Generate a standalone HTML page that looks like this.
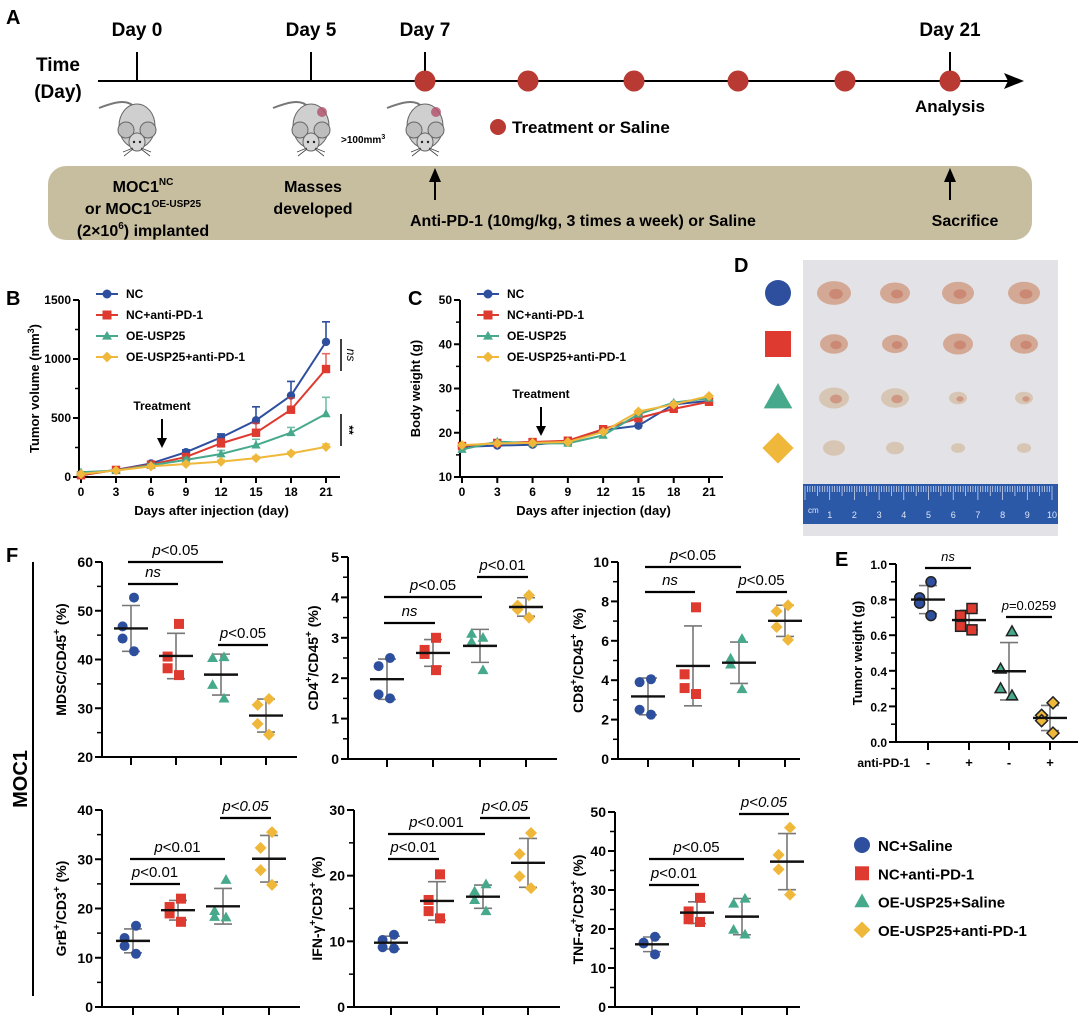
<!DOCTYPE html>
<html><head><meta charset="utf-8"><style>
html,body{margin:0;padding:0;background:#fff;}
svg{display:block;font-family:"Liberation Sans",Arial,sans-serif;}
text{font-weight:bold;}
text.nw{font-weight:normal;}
</style></head><body>
<svg id="fig" width="1080" height="1018" viewBox="0 0 1080 1018" xmlns="http://www.w3.org/2000/svg">
<!-- Panel A -->
<g>
<text x="6" y="24" font-size="20">A</text>
<text x="58" y="71" font-size="19" text-anchor="middle">Time</text>
<text x="58" y="98" font-size="19" text-anchor="middle">(Day)</text>
<line x1="98" y1="81" x2="1010" y2="81" stroke="#000" stroke-width="2"/>
<polygon points="1024,81 1004,73 1008,81 1004,89" fill="#000"/>
<line x1="137" y1="52" x2="137" y2="81" stroke="#000" stroke-width="2"/>
<line x1="311" y1="52" x2="311" y2="81" stroke="#000" stroke-width="2"/>
<line x1="425" y1="52" x2="425" y2="81" stroke="#000" stroke-width="2"/>
<line x1="950" y1="52" x2="950" y2="81" stroke="#000" stroke-width="2"/>
<text x="137" y="36" font-size="19" text-anchor="middle">Day 0</text>
<text x="311" y="36" font-size="19" text-anchor="middle">Day 5</text>
<text x="425" y="36" font-size="19" text-anchor="middle">Day 7</text>
<text x="950" y="36" font-size="19" text-anchor="middle">Day 21</text>
<g id="dots"></g>
<text x="950" y="112" font-size="17" text-anchor="middle">Analysis</text>
<circle cx="498" cy="127" r="8" fill="#b83a33"/>
<text x="512" y="133" font-size="17">Treatment or Saline</text>
<text x="341" y="143" font-size="10">&gt;100mm<tspan font-size="7" dy="-4">3</tspan></text>
<g id="mice"></g>
<rect x="48" y="166" width="984" height="74" rx="18" fill="#c7bd9f"/>
<text x="143" y="192" font-size="16" text-anchor="middle">MOC1<tspan font-size="10" dy="-7">NC</tspan></text>
<text x="143" y="214" font-size="16" text-anchor="middle">or MOC1<tspan font-size="10" dy="-7">OE-USP25</tspan></text>
<text x="143" y="236" font-size="16" text-anchor="middle">(2×10<tspan font-size="10" dy="-7">6</tspan><tspan dy="7">) implanted</tspan></text>
<text x="313" y="192" font-size="16" text-anchor="middle">Masses</text>
<text x="313" y="214" font-size="16" text-anchor="middle">developed</text>
<line x1="435" y1="200" x2="435" y2="180" stroke="#000" stroke-width="2"/>
<polygon points="435,168 429,182 441,182" fill="#000"/>
<text x="410" y="226" font-size="16">Anti-PD-1 (10mg/kg, 3 times a week) or Saline</text>
<line x1="950" y1="200" x2="950" y2="180" stroke="#000" stroke-width="2"/>
<polygon points="950,168 944,182 956,182" fill="#000"/>
<text x="965" y="226" font-size="16" text-anchor="middle">Sacrifice</text>
</g>
<!-- Panel labels -->
<text x="6" y="305" font-size="20">B</text>
<text x="408" y="305" font-size="20">C</text>
<text x="734" y="272" font-size="20">D</text>
<text x="835" y="566" font-size="20">E</text>
<text x="6" y="562" font-size="20">F</text>
<g id="panelB"></g><g id="panelC"></g><g id="panelD"></g><g id="panelE"></g><g id="panelF"></g>
<line x1="33" y1="562" x2="33" y2="996" stroke="#000" stroke-width="2"/>
<text transform="translate(27,779) rotate(-90)" font-size="20" text-anchor="middle">MOC1</text>
<g id="legendF"></g>
</svg>
<script>
// ---------- data ----------
const groupNames = ["NC+Saline","NC+anti-PD-1","OE-USP25+Saline","OE-USP25+anti-PD-1"];
const seriesNamesBC = ["NC","NC+anti-PD-1","OE-USP25","OE-USP25+anti-PD-1"];
const days = [0,3,6,9,12,15,18,21];
const tickDays = [0,3,6,9,12,15,18,21];
const volNC = [15,60,115,210,335,480,690,1145];
const volAnti = [15,60,105,170,285,375,570,915];
const volOE = [40,55,100,145,195,270,375,535];
const volOEAnti = [25,55,90,110,130,160,200,255];
const errNC = [5,10,15,20,30,115,120,170];
const errAnti = [5,10,15,20,40,80,100,130];
const errOE = [5,10,15,20,30,50,45,140];
const errOEAnti = [5,5,10,10,15,15,15,25];
const volTicks = [0,500,1000,1500];
const bwNC = [16.8,17.1,17.3,18.0,20.6,21.6,26.4,27.2];
const bwAnti = [17.0,17.7,17.9,18.2,20.8,23.3,25.4,27.0];
const bwOE = [16.2,18.0,17.6,17.6,19.4,24.2,26.8,27.8];
const bwOEAnti = [17.2,17.6,17.7,17.9,20.2,24.8,26.4,28.3];
const bwTicks = [10,20,30,40,50];
const mdsc = [[52.7,46.8,44.3,41.7],[47.3,40.6,38.2,36.8],[40.5,40.3,34.8,32.0],[31.9,30.7,26.8,24.6]];
const cd4 = [[2.5,2.3,1.6,1.5],[3.0,2.7,2.6,2.2],[3.0,3.1,2.9,2.2],[4.05,3.8,3.7,3.5]];
const cd8 = [[4.05,3.9,2.5,2.25],[7.7,4.3,3.6,3.3],[6.1,5.1,4.8,3.55],[7.8,7.5,6.7,6.05]];
const grb = [[16.5,14.0,12.4,10.8],[22.0,20.3,19.0,17.3],[25.8,19.5,18.3,18.2],[35.5,32.3,27.8,24.8]];
const ifn = [[11.0,10.2,9.1,8.9],[20.2,16.3,14.6,13.5],[18.7,17.6,16.3,14.6],[26.5,23.3,19.9,18.1]];
const tnf = [[18.0,16.5,16.3,13.5],[28.0,24.5,22.5,21.8],[27.8,26.5,19.8,18.6],[46.0,39.0,35.3,28.8]];
const tumorWeight = [[0.90,0.81,0.78,0.71],[0.75,0.71,0.65,0.63],[0.62,0.41,0.30,0.26],[0.22,0.15,0.12,0.05]];
const weightTicks = [0,0.2,0.4,0.6,0.8,1.0];
const antiPD1Signs = ["-","+","-","+"];

const COLORS = ["#2d4f9e","#de3a2f","#47a98b","#efb83a"];
const SHAPES = ["circle","square","triangle","diamond"];
const NS = "http://www.w3.org/2000/svg";
function mk(parent, tag, attrs, text){
  const e = document.createElementNS(NS, tag);
  for (const k in attrs) e.setAttribute(k, attrs[k]);
  if (text !== undefined) e.textContent = text;
  parent.appendChild(e); return e;
}
function marker(parent, shape, x, y, s, fill, stroke){
  let e;
  if (shape==="circle") e = mk(parent,"circle",{cx:x,cy:y,r:s,fill:fill});
  else if (shape==="square") e = mk(parent,"rect",{x:x-s,y:y-s,width:2*s,height:2*s,fill:fill});
  else if (shape==="triangle") e = mk(parent,"polygon",{points:`${x},${y-s*1.15} ${x-s*1.1},${y+s*0.8} ${x+s*1.1},${y+s*0.8}`,fill:fill});
  else e = mk(parent,"polygon",{points:`${x},${y-s*1.2} ${x+s*1.2},${y} ${x},${y+s*1.2} ${x-s*1.2},${y}`,fill:fill});
  if (stroke){ e.setAttribute("stroke",stroke); e.setAttribute("stroke-width","1.5"); }
  return e;
}

// ---------- Panel A dots & mice ----------
const dotDays = [425,528,634,738,845,950];
const dotsG = document.getElementById("dots");
dotDays.forEach((x,i)=>{
  const c = mk(dotsG,"circle",{cx:x,cy:81,r:10.5,fill:"#b83a33"});
  
  
});
const miceG = document.getElementById("mice");
[[137,false],[311,true],[425,true]].forEach(([cx,t])=>{
  const g = mk(miceG,"g",{});
  
  
  mk(g,"path",{d:`M${cx-3},${107} C${cx-10},${98} ${cx-25},${103} ${cx-38},${108}`,stroke:"#777",fill:"none","stroke-width":2});
  mk(g,"ellipse",{cx:cx,cy:126,rx:18,ry:22,fill:"#cfcfcf",stroke:"#666","stroke-width":1});
  mk(g,"circle",{cx:cx-11,cy:130,r:8,fill:"#bdbdbd",stroke:"#666","stroke-width":1});
  mk(g,"circle",{cx:cx+11,cy:130,r:8,fill:"#bdbdbd",stroke:"#666","stroke-width":1});
  mk(g,"ellipse",{cx:cx,cy:142,rx:8,ry:9,fill:"#d6d6d6",stroke:"#666","stroke-width":1});
  mk(g,"circle",{cx:cx-3,cy:142,r:1.2,fill:"#222"});
  mk(g,"circle",{cx:cx+3,cy:142,r:1.2,fill:"#222"});
  mk(g,"path",{d:`M${cx-4},${148} l-10,4 M${cx+4},${148} l10,4 M${cx-4},${149} l-9,7 M${cx+4},${149} l9,7`,stroke:"#444","stroke-width":0.8});
  if (t) mk(g,"circle",{cx:cx+11,cy:112,r:5,fill:"#b0506a",opacity:0.8});
});

// ---------- Line charts ----------
function lineChart(gid, ax, seriesList, errList, ticks, yTitle){
  const g = document.getElementById(gid);
  const X = d => ax.x0 + (d - days[0]) / (days[days.length-1]-days[0]) * (ax.x1 - ax.x0);
  const Y = v => ax.yb - (v - ax.vmin)/(ax.vmax-ax.vmin)*(ax.yb-ax.yt);
  const axis = mk(g,"path",{d:`M${ax.x0-2},${ax.yt} V${ax.yb} H${ax.x1+14}`,stroke:"#000","stroke-width":2,fill:"none"});
  
  
  ticks.forEach(t=>{
    mk(g,"line",{x1:ax.x0-8,x2:ax.x0-2,y1:Y(t),y2:Y(t),stroke:"#000","stroke-width":2});
    const lb = mk(g,"text",{x:ax.x0-10,y:Y(t)+4,"font-size":12,"text-anchor":"end"},String(t));
    
    
  });
  for (let i=0;i<ticks.length-1;i++){ const m=(ticks[i]+ticks[i+1])/2; mk(g,"line",{x1:ax.x0-6,x2:ax.x0-2,y1:Y(m),y2:Y(m),stroke:"#000","stroke-width":1.5}); }
  tickDays.forEach(d=>{
    mk(g,"line",{x1:X(d),x2:X(d),y1:ax.yb,y2:ax.yb+6,stroke:"#000","stroke-width":2});
    const lb = mk(g,"text",{x:X(d),y:ax.yb+19,"font-size":12,"text-anchor":"middle"},String(d));
    
    
  });
  const xt = mk(g,"text",{x:(ax.x0+ax.x1)/2+8,y:ax.yb+38,"font-size":13,"text-anchor":"middle"},"Days after injection (day)");
  
  
  const yt = mk(g,"text",{transform:`translate(${ax.x0-42},${(ax.yt+ax.yb)/2}) rotate(-90)`,"font-size":13,"text-anchor":"middle"});
  yt.innerHTML = yTitle;
  
  
  [0,1,2,3].forEach(si=>{
    const vals = seriesList[si];
    const sg = mk(g,"g",{});
    
    
    if (errList) days.forEach((d,i)=>{
      const e = errList[si][i];
      mk(sg,"path",{d:`M${X(d)},${Y(vals[i])} V${Y(vals[i]+e)} M${X(d)-4},${Y(vals[i]+e)} h8`,stroke:COLORS[si],"stroke-width":1.6,fill:"none",opacity:si===0?1:0.75});
    });
    mk(sg,"polyline",{points:days.map((d,i)=>`${X(d)},${Y(vals[i])}`).join(" "),fill:"none",stroke:COLORS[si],"stroke-width":2});
    days.forEach((d,i)=>{ const m = marker(sg, SHAPES[si], X(d), Y(vals[i]), 4.2, COLORS[si]);   });
  });
  seriesNamesBC.forEach((n,i)=>{
    const ly = ax.legY + i*21;
    const lg = mk(g,"g",{});
    
    
    mk(lg,"line",{x1:ax.legX,x2:ax.legX+22,y1:ly,y2:ly,stroke:COLORS[i],"stroke-width":2});
    marker(lg, SHAPES[i], ax.legX+11, ly, 4.5, COLORS[i]);
    mk(lg,"text",{x:ax.legX+30,y:ly+4,"font-size":12},n);
  });
  const tr = mk(g,"text",{x:ax.trX,y:ax.trY,"font-size":12,"text-anchor":"middle"},"Treatment");
  
  
  mk(g,"line",{x1:ax.trX,x2:ax.trX,y1:ax.trY+9,y2:ax.trY+36,stroke:"#000","stroke-width":2});
  mk(g,"polygon",{points:`${ax.trX-5},${ax.trY+28} ${ax.trX+5},${ax.trY+28} ${ax.trX},${ax.trY+38}`,fill:"#000"});
  return {X,Y,g};
}
const bChart = lineChart("panelB",{x0:81,x1:326,yt:300,yb:477,vmin:0,vmax:1500,legX:96,legY:294,trX:162,trY:410},
  [volNC,volAnti,volOE,volOEAnti],[errNC,errAnti,errOE,errOEAnti],volTicks,
  'Tumor volume (mm<tspan font-size="9" dy="-5">3</tspan><tspan dy="5">)</tspan>');
mk(bChart.g,"line",{x1:341,x2:341,y1:339,y2:371,stroke:"#000","stroke-width":1.5});
mk(bChart.g,"text",{transform:"translate(347,355) rotate(90)","font-size":12,"font-style":"italic",class:"nw","text-anchor":"middle"},"ns");
mk(bChart.g,"line",{x1:341,x2:341,y1:414,y2:446,stroke:"#000","stroke-width":1.5});
mk(bChart.g,"text",{transform:"translate(345,430) rotate(90)","font-size":12,"text-anchor":"middle"},"**");
lineChart("panelC",{x0:462,x1:709,yt:300,yb:477,vmin:10,vmax:50,legX:477,legY:294,trX:541,trY:398},
  [bwNC,bwAnti,bwOE,bwOEAnti],null,bwTicks,'Body weight (g)');

// ---------- Panel D photo ----------
(function(){
  const g = document.getElementById("panelD");
  const rect = mk(g,"rect",{x:803,y:260,width:255,height:276,fill:"#e3e2e6"});
  
  
  const cols=[834,895,958,1024], rows=[293,344,398,448];
  const sizes=[[17,15,16,16],[14,13,15,14],[15,14,9,9],[11,9,7,7]];
  rows.forEach((y,r)=>{
    const m = marker(g, SHAPES[r], 778, y, 13, COLORS[r]);
    
    
    cols.forEach((x,c)=>{ const s=sizes[r][c]; mk(g,"ellipse",{cx:x,cy:y,rx:s,ry:s*0.7,fill:r<2?"#d3a894":"#d8c6b4"}); mk(g,"ellipse",{cx:x+2,cy:y+1,rx:s*0.4,ry:s*0.3,fill:"#c46a55",opacity:r<3?0.5:0}); });
  });
  const ruler = mk(g,"rect",{x:803,y:484,width:255,height:40,fill:"#2c58a8"});
  
  
  for(let i=0;i<=100;i++){ const x=805+i*2.47; mk(g,"line",{x1:x,x2:x,y1:486,y2:486+(i%10===0?14:(i%5===0?10:6)),stroke:"#dfe6f5","stroke-width":0.7}); }
  for(let i=1;i<=10;i++) mk(g,"text",{x:805+i*24.7,y:518,"font-size":9,class:"nw",fill:"#dfe6f5","text-anchor":"middle"},String(i));
  mk(g,"text",{x:808,y:513,"font-size":8,class:"nw",fill:"#dfe6f5"},"cm");
})();

// ---------- Scatter plots ----------
const DX = [-3,-6,6,3];
function scatter(parent, cfg, data){
  const g = mk(parent,"g",{});
  
  
  const Y = v => cfg.yb - (v-cfg.vmin)/(cfg.vmax-cfg.vmin)*(cfg.yb-cfg.yt);
  mk(g,"path",{d:`M${cfg.x0},${cfg.yt} V${cfg.yb} H${cfg.xEnd}`,stroke:"#000","stroke-width":2,fill:"none"});
  cfg.ticks.forEach((t,i)=>{
    mk(g,"line",{x1:cfg.x0-7,x2:cfg.x0,y1:Y(t),y2:Y(t),stroke:"#000","stroke-width":2});
    const lb = mk(g,"text",{x:cfg.x0-9,y:Y(t)+5,"font-size":cfg.tfs||14,"text-anchor":"end"},cfg.fmt?cfg.fmt(t):String(t));
    
    
    if (i<cfg.ticks.length-1){ const m=(t+cfg.ticks[i+1])/2; mk(g,"line",{x1:cfg.x0-5,x2:cfg.x0,y1:Y(m),y2:Y(m),stroke:"#000","stroke-width":1.5}); }
  });
  const yt = mk(g,"text",{transform:`translate(${cfg.titleX},${(cfg.yt+cfg.yb)/2}) rotate(-90)`,"font-size":cfg.tts||14,"text-anchor":"middle"});
  yt.innerHTML = cfg.title;
  
  
  cfg.gx.forEach((gx,gi)=>{
    mk(g,"line",{x1:gx,x2:gx,y1:cfg.yb,y2:cfg.yb+8,stroke:"#000","stroke-width":2});
    const vals = data[gi];
    const mean = vals.reduce((a,b)=>a+b,0)/vals.length;
    const sd = Math.sqrt(vals.reduce((a,b)=>a+(b-mean)*(b-mean),0)/(vals.length-1));
    mk(g,"path",{d:`M${gx},${Y(mean+sd)} V${Y(mean-sd)} M${gx-9},${Y(mean+sd)} h18 M${gx-9},${Y(mean-sd)} h18`,stroke:"#777","stroke-width":1.6,fill:"none"});
    vals.forEach((v,i)=>{
      const m = marker(g, SHAPES[gi], gx+DX[i]*(i===1||i===2?1.4:1)*(i%2?1:-1), Y(v), cfg.ms||5, COLORS[gi], cfg.stroke);
      
      
    });
    mk(g,"line",{x1:gx-17,x2:gx+17,y1:Y(mean),y2:Y(mean),stroke:"#111","stroke-width":2.4});
  });
  (cfg.sig||[]).forEach(s=>{
    const a = cfg.gx[s[0]]-3, b = cfg.gx[s[1]]+2;
    mk(g,"line",{x1:a,x2:b,y1:s[2],y2:s[2],stroke:"#000","stroke-width":2.2});
    const t = mk(g,"text",{x:(a+b)/2,y:s[2]-7,"font-size":cfg.sfs||15,class:"nw","text-anchor":"middle","font-style":s[4]?"italic":"normal"});
    t.innerHTML = s[3];
    
    
  });
  return g;
}
const P = '<tspan font-style="italic">p</tspan>';
const F = document.getElementById("panelF");
const sup = s => `<tspan font-size="10" dy="-6">${s}</tspan><tspan dy="6">`;
scatter(F,{name:"mdsc-plot",x0:102,xEnd:297,yt:562,yb:757,vmin:20,vmax:60,ticks:[20,30,40,50,60],gx:[131,176,221,266],titleX:66,
  title:`MDSC/CD45${sup("+")} (%)</tspan>`,
  sig:[[0,2,562,P+"&lt;0.05"],[0,1,584,'<tspan font-style="italic">ns</tspan>'],[2,3,645,P+"&lt;0.05"]]},mdsc);
scatter(F,{name:"cd4-plot",x0:348,xEnd:557,yt:557,yb:759,vmin:0,vmax:5,ticks:[0,1,2,3,4,5],gx:[387,433,480,526],titleX:318,
  title:`CD4${sup("+")}/CD45</tspan>${sup("+")} (%)</tspan>`,
  sig:[[2,3,577,P+"&lt;0.01"],[0,2,597,P+"&lt;0.05"],[0,1,623,'<tspan font-style="italic">ns</tspan>']]},cd4);
scatter(F,{name:"cd8-plot",x0:618,xEnd:800,yt:562,yb:759,vmin:0,vmax:10,ticks:[0,2,4,6,8,10],gx:[648,693,739,785],titleX:583,
  title:`CD8${sup("+")}/CD45</tspan>${sup("+")} (%)</tspan>`,
  sig:[[0,2,567,P+"&lt;0.05"],[0,1,592,'<tspan font-style="italic">ns</tspan>'],[2,3,592,P+"&lt;0.05"]]},cd8);
scatter(F,{name:"grb-plot",x0:102,xEnd:300,yt:810,yb:1007,vmin:0,vmax:40,ticks:[0,10,20,30,40],gx:[133,178,223,269],titleX:66,
  title:`GrB${sup("+")}/CD3</tspan>${sup("+")} (%)</tspan>`,
  sig:[[2,3,818,"p&lt;0.05",1],[0,2,859,P+"&lt;0.01"],[0,1,884,P+"&lt;0.01"]]},grb);
scatter(F,{name:"ifn-plot",x0:354,xEnd:560,yt:810,yb:1007,vmin:0,vmax:30,ticks:[0,10,20,30],gx:[391,437,483,528],titleX:322,
  title:`IFN-γ${sup("+")}/CD3</tspan>${sup("+")} (%)</tspan>`,
  sig:[[2,3,818,"p&lt;0.05",1],[0,2,834,P+"&lt;0.001"],[0,1,859,P+"&lt;0.01"]]},ifn);
scatter(F,{name:"tnf-plot",x0:615,xEnd:800,yt:812,yb:1007,vmin:0,vmax:50,ticks:[0,10,20,30,40,50],gx:[652,697,742,787],titleX:583,
  title:`TNF-α${sup("+")}/CD3</tspan>${sup("+")} (%)</tspan>`,
  sig:[[2,3,814,"p&lt;0.05",1],[0,2,859,P+"&lt;0.05"],[0,1,885,P+"&lt;0.01"]]},tnf);
// Panel E
const E = document.getElementById("panelE");
scatter(E,{name:"tumor-weight-plot",x0:896,xEnd:1078,yt:564,yb:742,vmin:0,vmax:1,ticks:weightTicks,gx:[928,969,1009,1050],titleX:862,
  fmt:t=>t.toFixed(1),tfs:12,tts:13,sfs:13,ms:5,stroke:"#222",
  title:"Tumor weight (g)",
  sig:[[0,1,568,'<tspan font-style="italic">ns</tspan>'],[2,3,617,P+"=0.0259"]]},tumorWeight);
mk(E,"text",{x:910,y:767,"font-size":12,"text-anchor":"end"},"anti-PD-1");
[928,969,1009,1050].forEach((x,i)=>{
  const t = mk(E,"text",{x:x,y:767,"font-size":13,"text-anchor":"middle"},antiPD1Signs[i]);
  
  
});
// Legend F
const L = document.getElementById("legendF");
groupNames.forEach((n,i)=>{
  const y = 845 + i*28.3;
  const lg = mk(L,"g",{});
  
  
  marker(lg, SHAPES[i], 862, y, i===0?8:7, COLORS[i]);
  mk(lg,"text",{x:878,y:y+6,"font-size":15},n);
});
</script>
</body></html>
